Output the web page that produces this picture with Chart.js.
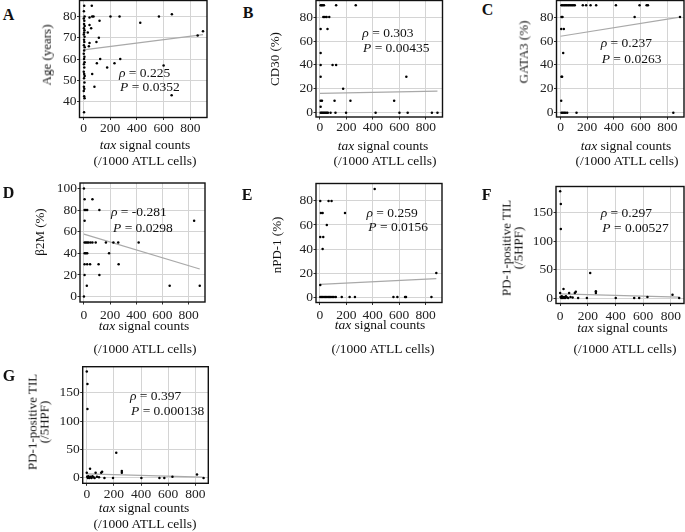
<!DOCTYPE html>
<html><head><meta charset="utf-8">
<script src="https://cdn.jsdelivr.net/npm/chart.js@4.4.1/dist/chart.umd.min.js"></script>
<style>
html,body{margin:0;padding:0;background:#fff;}
#root{position:relative;width:685px;height:532px;overflow:hidden;font-family:'Liberation Serif','Times New Roman',serif;color:#111;}
#root canvas{position:absolute;}
.t{position:absolute;white-space:nowrap;font-size:13.5px;line-height:14px;}
.lab{position:absolute;white-space:nowrap;font-weight:bold;font-size:16px;line-height:16px;}
.yt{position:absolute;white-space:nowrap;font-size:13px;line-height:12.4px;text-align:center;transform:translate(-50%,-50%) rotate(-90deg);}
.xt{position:absolute;white-space:nowrap;font-size:13.5px;line-height:14px;transform:translateX(-50%);}
</style></head>
<body><div id="root"></div>
<script>
// ---------- DATA ----------
const xTicks = [0, 200, 400, 600, 800];
const ageTicks = [40, 50, 60, 70, 80];
const pctTicks = [0, 20, 40, 60, 80];
const b2mTicks = [0, 20, 40, 60, 80, 100];
const tilTicks = [0, 50, 100, 150];

// A: Age (years)
const aTax = [5,3,8,2,6,4,9,3,7,5,2,8,4,6,3,9,5,2,7,4,8,3,6,2,5,9,4,7,3,6,2,5,8,4,
  62,45,65,75,202,270,565,662,425,120,45,57,32,115,97,45,40,895,855,125,100,177,232,275,65,82,600,660];
const aAge = [85,82.5,80,79,78,76.5,75.5,74.5,73.5,72.5,71.5,70.5,69,68,66.5,65.5,64,62.5,61,60,58.5,57.5,56,54,53,52,51,49,47,46,45,42.5,41.5,35,
  85,79.5,80,80,80,80,80,81,77,78,76,74.5,72.5,70,68,67.5,66,73,71,60,58,56,58,60,53,47,57,43];
const aTrendTax = [0, 895];
const aTrendAge = [64.3, 71.5];

// B: CD30 (%)
const bTax = [5,12,20,30,122,270, 25,37,50,70, 5,57, 5, 5,95,122, 5,652, 175, 5,15,110,230,560, 5,
  5,12,20,28,36,44,52,60,80,117,197,420,600,662,845,887];
const bCD30 = [90,90,90,90,90,90, 80,80,80,80, 70,70, 50, 40,40,40, 30,30, 20, 10,10,10,10,10, 5,
  0,0,0,0,0,0,0,0,0,0,0,0,0,0,0,0];
const bTrendTax = [0, 887];
const bTrendCD30 = [16.1, 18];

// C: GATA3 (%)
const cTax = [7,17,27,37,47,57,67,77,87,97,107,167,192,225,267,415,592,645,655, 7,15,555,895, 5,25, 20, 7,12, 5,
  7,17,27,37,50,120,845];
const cGATA3 = [90,90,90,90,90,90,90,90,90,90,90,90,90,90,90,90,90,90,90, 80,80,80,80, 70,70, 50, 30,30, 10,
  0,0,0,0,0,0,0];
const cTrendTax = [0, 895];
const cTrendGATA3 = [64, 80];

// D: β2M (%)
const dTax = [0, 5,65, 5,15,25,118, 5,842, 5,15,25,35,50,65,90,168,225,262,418, 5,15,25,192, 5,25,47,112,265, 5,118, 22,655,885, 0];
const dB2M = [100, 90,90, 80,80,80,80, 70,70, 50,50,50,50,50,50,50,50,50,50,50, 40,40,40,40, 30,30,30,30,30, 20,20, 10,10,10, 0];
const dTrendTax = [0, 885];
const dTrendB2M = [57.7, 25.5];

// E: nPD-1 (%)
const eTax = [415, 2,65,88, 7,20,190, 52, 2,25, 20, 882, 2,
  2,12,22,32,42,52,62,72,82,92,105,120,165,225,265,557,587,645,652,845];
const eNPD1 = [90, 80,80,80, 70,70,70, 60, 50,50, 40, 20, 10,
  0,0,0,0,0,0,0,0,0,0,0,0,0,0,0,0,0,0,0,0];
const eTrendTax = [0, 882];
const eTrendNPD1 = [10.6, 15.3];

// F & G: PD-1-positive TIL (/5HPF)
const tilTax = [0,5,5,24,0,3,8,12,16,20,28,35,42,50,58,65,75,90,106,113,130,193,217,258,258,402,535,571,631,812,860];
const tilCount = [187,165,121,16,9,2,0,3,1,0,2,0,3,1,0,9,2,1,9,11,0,0,44,12,9,0,0,0,2,6,0];
const fTrendTax = [0, 860];
const fTrendTIL = [7.4, 1.7];
const gTrendTax = [0, 853];
const gTrendTIL = [7, 1.2];

const panelLetters = ['A','B','C','D','E','F','G'];
const rhoVals = ['0.225','0.303','0.237','-0.281','0.259','0.297','0.397'];
const pVals = ['0.0352','0.00435','0.0263','0.0298','0.0156','0.00527','0.000138'];
const yTitles = [['Age (years)'],['CD30 (%)'],['GATA3 (%)'],['β2M (%)'],['nPD-1 (%)'],
  ['PD-1-positive TIL','(/5HPF)'],['PD-1-positive TIL','(/5HPF)']];

// ---------- LAYOUT (positions only) ----------
const layouts = [
 {box:[79.5,0.5,207,117.5], xr:[-30,925], yr:[32.5,87.5], xPad:1.5, letter:[2.7,20], yt:[47,55], xt:[[145,150],[145,165.7]], ann:[[119,77.3],[120,91.7]]},
 {box:[316,0.5,442.5,117], xr:[-30,925], yr:[-3.6,93.9], xPad:1.5, letter:[242.7,18.3], yt:[275,58.8], xt:[[383,150.7],[385,165.7]], ann:[[362.3,37.7],[363,52.7]]},
 {box:[556.5,0.5,684,117], xr:[-30,925], yr:[-3.6,93.9], xPad:1.5, letter:[481.7,15], yt:[523.7,52], xt:[[626,150.7],[627,165.7]], ann:[[600.7,48],[601.7,63.3]]},
 {box:[80,183,205,302], xr:[-30,925], yr:[-5,105], xPad:4.2, letter:[2.7,198.3], yt:[40,231.7], xt:[[144,331],[145,354]], ann:[[111,217],[113,232.3]]},
 {box:[316,183.5,442,302.5], xr:[-30,925], yr:[-4.5,94.5], xPad:4.2, letter:[241.7,200.7], yt:[276.7,245], xt:[[380,330],[383,354]], ann:[[366.5,217.5],[368.3,231.7]]},
 {box:[556,186.5,684,303.5], xr:[-30,895], yr:[-9.5,195.5], xPad:3.5, letter:[481.7,200], yt:[513,247.8], xt:[[622.5,333],[625,354]], ann:[[600.7,218],[602.3,233]]},
 {box:[82.7,366.7,208.3,483.3], xr:[-30,895], yr:[-9.5,195.5], xPad:2.3, letter:[2.7,381.7], yt:[39.2,421.7], xt:[[144,512.7],[145,528.3]], ann:[[130,400.5],[131,415.5]]}
];

const series = [
 {x:aTax, y:aAge, tx:aTrendTax, ty:aTrendAge, yt:ageTicks},
 {x:bTax, y:bCD30, tx:bTrendTax, ty:bTrendCD30, yt:pctTicks},
 {x:cTax, y:cGATA3, tx:cTrendTax, ty:cTrendGATA3, yt:pctTicks},
 {x:dTax, y:dB2M, tx:dTrendTax, ty:dTrendB2M, yt:b2mTicks},
 {x:eTax, y:eNPD1, tx:eTrendTax, ty:eTrendNPD1, yt:pctTicks},
 {x:tilTax, y:tilCount, tx:fTrendTax, ty:fTrendTIL, yt:tilTicks},
 {x:tilTax, y:tilCount, tx:gTrendTax, ty:gTrendTIL, yt:tilTicks}
];

const root = document.getElementById('root');
const FONT = "'Liberation Serif','Times New Roman',serif";

const boxPlugin = {
  id:'boxBorder',
  afterDraw(chart){
    const a = chart.chartArea, ctx = chart.ctx;
    ctx.save();
    ctx.strokeStyle = '#111'; ctx.lineWidth = 1.4;
    ctx.strokeRect(a.left, a.top, a.right - a.left, a.bottom - a.top);
    ctx.restore();
  }
};

function addDiv(cls, html, left, top){
  const d = document.createElement('div');
  d.className = cls; d.innerHTML = html;
  d.style.left = left + 'px'; d.style.top = top + 'px';
  root.appendChild(d);
  return d;
}

layouts.forEach((L, i) => {
  const S = series[i];
  const [bl, bt, br, bb] = L.box;
  const padL = 60, padR = 12, padT = 14, padB = 40;
  const cLeft = Math.floor(bl - padL), cTop = Math.floor(bt - padT);
  const w = Math.ceil(br - cLeft + padR), h = Math.ceil(bb - cTop + padB);
  const effL = bl - cLeft, effT = bt - cTop, effR = w - (br - cLeft), effB = h - (bb - cTop);
  const cv = document.createElement('canvas');
  cv.width = w; cv.height = h; cv.style.width = w + 'px'; cv.style.height = h + 'px';
  cv.style.left = cLeft + 'px'; cv.style.top = cTop + 'px';
  root.appendChild(cv);

  const pts = S.x.map((v, k) => ({x: v, y: S.y[k]}));
  const trend = S.tx.map((v, k) => ({x: v, y: S.ty[k]}));
  const tickFont = {family: FONT, size: 13.5, lineHeight: 1};

  new Chart(cv, {
    type: 'scatter',
    data: {datasets: [
      {type:'line', data: trend, borderColor:'#a9a9a9', borderWidth:1.2, pointRadius:0, fill:false, order:2},
      {data: pts, backgroundColor:'#000', borderWidth:0, pointRadius:1.25, pointHoverRadius:1.25, order:1}
    ]},
    options: {
      responsive:false, animation:false, devicePixelRatio:1, events:[],
      layout:{padding:{left:0, top:effT, right:effR, bottom:0}},
      plugins:{legend:{display:false}, tooltip:{enabled:false}},
      scales:{
        x:{type:'linear', min:L.xr[0], max:L.xr[1],
           afterBuildTicks: s => { s.ticks = xTicks.map(v => ({value:v})); },
           afterFit: s => { s.height = effB; },
           grid:{color:'#d4d4d4', lineWidth:1, tickLength:2.5, tickColor:'#333'},
           border:{display:false},
           ticks:{font:tickFont, color:'#222', padding:L.xPad, maxRotation:0, autoSkip:false}},
        y:{type:'linear', min:L.yr[0], max:L.yr[1],
           afterBuildTicks: s => { s.ticks = S.yt.map(v => ({value:v})); },
           afterFit: s => { s.width = effL; },
           grid:{color:'#d4d4d4', lineWidth:1, tickLength:2.5, tickColor:'#333'},
           border:{display:false},
           ticks:{font:tickFont, color:'#222', padding:0.5, autoSkip:false}}
      }
    },
    plugins:[boxPlugin]
  });

  // panel letter
  addDiv('lab', panelLetters[i], L.letter[0], L.letter[1] - 13.4);
  // y title
  addDiv('yt', yTitles[i].join('<br>'), L.yt[0], L.yt[1]);
  // x title
  addDiv('xt', '<i>tax</i> signal counts', L.xt[0][0], L.xt[0][1] - 11.56);
  addDiv('xt', '(/1000 ATLL cells)', L.xt[1][0], L.xt[1][1] - 11.56);
  // annotation
  addDiv('t', '<i>ρ</i> = ' + rhoVals[i], L.ann[0][0], L.ann[0][1] - 11.56);
  addDiv('t', '<i>P</i> = ' + pVals[i], L.ann[1][0], L.ann[1][1] - 11.56);
});
</script>
</body></html>
